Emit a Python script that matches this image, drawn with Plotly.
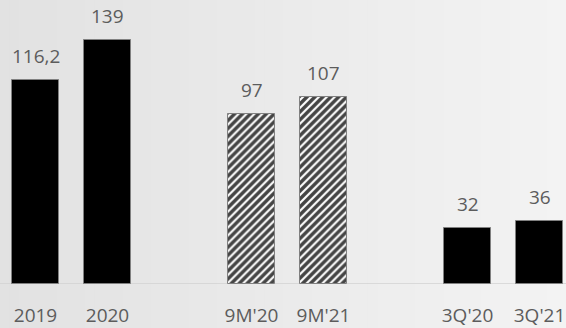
import plotly.graph_objects as go

periods = ["2019", "2020", "9M'20", "9M'21", "3Q'20", "3Q'21"]
values = [116.2, 139, 97, 107, 32, 36]
groups = [0, 0, 1, 1, 2, 2]
hatched = [False, False, True, True, False, False]

xpos = [i + g for i, g in enumerate(groups)]

def fmt(v):
    s = f"{v:g}"
    return s.replace(".", ",")

fig = go.Figure()
fig.add_trace(go.Bar(
    x=xpos, y=values,
    width=0.66,
    marker=dict(
        color=["#000000" if not h else "#ffffff" for h in hatched],
        line=dict(color="#808080", width=1),
        pattern=dict(
            shape=["/" if h else "" for h in hatched],
            fgcolor="#000000", bgcolor="#ffffff", fgopacity=1,
            size=5.6, solidity=0.62, fillmode="overlay",
        ),
    ),
    hoverinfo="skip",
))

for x, v in zip(xpos, values):
    fig.add_annotation(x=x, y=v, text=fmt(v), showarrow=False,
                       yanchor="bottom", yshift=9,
                       font=dict(family="Open Sans", size=19, color="#5c5c5c"))

# background gradient (horizontal)
n = 60
c0, c1 = (0xE2, 0xE2, 0xE2), (0xF3, 0xF3, 0xF3)
shapes = []
for k in range(n):
    t = k / (n - 1)
    c = tuple(round(a + (b - a) * t) for a, b in zip(c0, c1))
    shapes.append(dict(type="rect", xref="paper", yref="paper",
                       x0=k / n, x1=(k + 1) / n + 0.002, y0=-0.2, y1=1.05,
                       fillcolor=f"rgb{c}", line=dict(width=0), layer="below"))
shapes.append(dict(type="line", xref="paper", yref="y", x0=0, x1=1, y0=0, y1=0,
                   line=dict(color="#d2d2d2", width=1.5), layer="below"))

fig.update_layout(
    width=566, height=328,
    margin=dict(l=0, r=0, t=0, b=40),
    paper_bgcolor="#ebebeb", plot_bgcolor="rgba(0,0,0,0)",
    showlegend=False,
    shapes=shapes,
    bargap=0,
    xaxis=dict(range=[-35.5 / 72, 530.5 / 72], tickvals=xpos, ticktext=periods,
               showgrid=False, zeroline=False, showline=False,
               ticks="outside", ticklen=14, tickcolor="rgba(0,0,0,0)",
               tickfont=dict(family="Open Sans", size=19, color="#5c5c5c")),
    yaxis=dict(range=[0, 288 / 1.777], visible=False, showgrid=False, zeroline=False),
)

fig.write_html("out.html")
